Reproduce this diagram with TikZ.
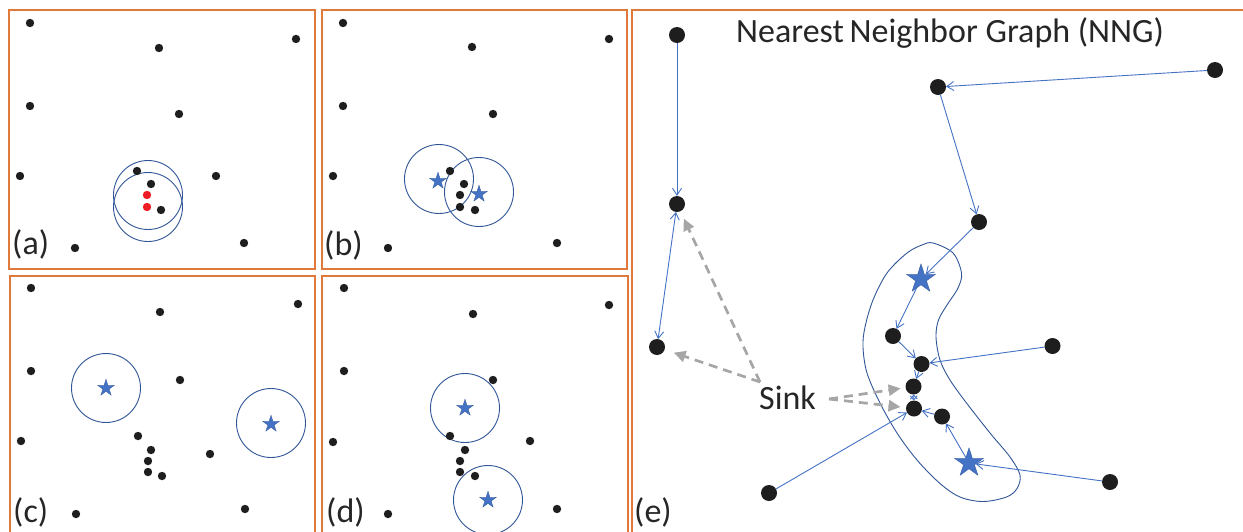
\documentclass[tikz,border=0pt]{standalone}
\usepackage{fontspec}
\setmainfont{Carlito}
\usetikzlibrary{shapes.geometric,arrows.meta}
\definecolor{frameor}{HTML}{E07A3C}
\definecolor{circblue}{HTML}{2F5597}
\definecolor{starblue}{HTML}{4472C4}
\definecolor{linkblue}{HTML}{4472C4}
\definecolor{sinkgray}{HTML}{A6A6A6}
\definecolor{dotblack}{HTML}{1E1E1E}
\definecolor{dotred}{HTML}{EE1C25}
\definecolor{txt}{HTML}{262626}
\newcommand\lblfont{\fontsize{34}{40}\selectfont}
\begin{document}
\begin{tikzpicture}[x=1pt,y=-1pt,
  panelframe/.style={draw=frameor,line width=1.1pt},
  pdot/.style={circle,fill=dotblack,inner sep=0pt,minimum size=8.4pt},
  rdot/.style={circle,fill=dotred,inner sep=0pt,minimum size=8.4pt},
  bigdot/.style={circle,fill=dotblack,inner sep=0pt,minimum size=16pt,outer sep=0pt},
  nring/.style={circle,draw=circblue,line width=0.9pt,inner sep=0pt,minimum size=69pt},
  smallstar/.style={star,star points=5,star point ratio=2.618,minimum size=17.6pt,inner sep=0pt,fill=starblue,draw=circblue,line width=0.3pt},
  bigstar/.style={star,star points=5,star point ratio=2.618,minimum size=30.4pt,inner sep=0pt,fill=starblue,draw=circblue,line width=0.3pt,outer sep=0pt},
  nnedge/.style={draw=linkblue,line width=0.9pt,-{Straight Barb[length=7pt,width=9pt]}},
  nnboth/.style={draw=linkblue,line width=0.9pt,{Straight Barb[length=4pt,width=7pt]}-{Straight Barb[length=4pt,width=7pt]}},
  sinkarrow/.style={draw=sinkgray,line width=2.7pt,dash pattern=on 9pt off 6pt,-{Triangle[length=12pt,width=11pt]}},
  lbl/.style={inner sep=0pt,text=txt,font=\lblfont},
  blob/.style={draw=circblue,line width=0.9pt}
]
\useasboundingbox (0,0) rectangle (1243,531);
\clip (0,0) rectangle (1243,531);
% frames
\draw[panelframe] (9,10) rectangle (315,269);
\draw[panelframe] (322,10) rectangle (627,269);
\draw[panelframe] (10,276) rectangle (315,545);
\draw[panelframe] (322,276) rectangle (628,545);
\draw[panelframe] (632,10) rectangle (1260,545);
% panel (a)
\node[nring] (ca1) at (148,195) {};
\node[nring] (ca2) at (148,207) {};
\foreach \x/\y [count=\i] in {30/23,159/48,296/39,30/106,179/114,20/176,137/171,151/184,216/176,161/210,75/248,244/243}
  \node[pdot] (a\i) at (\x,\y) {};
\node[rdot] (ar1) at (147,195) {};
\node[rdot] (ar2) at (147,207) {};
\node[lbl,anchor=base west] (la) at (12,254) {(a)};
% panel (b)
\node[nring] (cb1) at (439,179) {};
\node[nring] (cb2) at (479,192) {};
\foreach \x/\y [count=\i] in {343/23,472/47,609/39,343/106,493/114,333/176,450/171,464/184,460/195,460/207,475/210,388/248,557/243}
  \node[pdot] (b\i) at (\x,\y) {};
\node[smallstar] (sb1) at (438,181) {};
\node[smallstar] (sb2) at (479,194) {};
\node[lbl,anchor=base west] (lb) at (324,255) {(b)};
% panel (c)
\node[nring] (cc1) at (106,388) {};
\node[nring] (cc2) at (271,423) {};
\foreach \x/\y [count=\i] in {31/288,160/312,298/304,31/371,180/380,21/441,138/436,151/450,210/454,148/461,148/472,162/476,76/514,245/509}
  \node[pdot] (c\i) at (\x,\y) {};
\node[smallstar] (sc1) at (106,388) {};
\node[smallstar] (sc2) at (271,424) {};
\node[lbl,anchor=base west] (lc) at (13,522) {(c)};
% panel (d)
\node[nring] (cd1) at (465,408) {};
\node[nring] (cd2) at (488,500) {};
\foreach \x/\y [count=\i] in {344/288,473/314,609/305,344/371,493/380,333/442,450/436,465/450,530/441,460/461,460/472,475/476,388/514,557/509}
  \node[pdot] (d\i) at (\x,\y) {};
\node[smallstar] (sd1) at (465,408) {};
\node[smallstar] (sd2) at (488,500) {};
\node[lbl,anchor=base west] (ld) at (326,522) {(d)};
% panel (e)
\node[lbl,anchor=base west] (title) at (736,42) {Nearest\hspace{-2pt} Neighbor Graph (NNG)};
\draw[blob] plot[smooth cycle,tension=0.55] coordinates {
 (933,243) (953,253) (961.5,273) (958,288) (947,305) (938.5,320) (936,337) (940,360) (950,380) (966.5,403) (990,433) (1010,457) (1020,475) (1017,488.5) (1006.5,497) (983,501.5) (960,497) (940,483.5) (917,460) (897,433) (880,403) (867,373) (863,347) (865,327) (873,300) (887,273) (907,253) (922,245)};
\node[bigdot] (n1) at (677,35) {};
\node[bigdot] (n2) at (677,204) {};
\node[bigdot] (n3) at (938,87) {};
\node[bigdot] (n4) at (1215,70) {};
\node[bigdot] (n5) at (979,222) {};
\node[bigdot] (n6) at (657,347) {};
\node[bigdot] (n7) at (893,336) {};
\node[bigdot] (n8) at (921.5,364) {};
\node[bigdot] (n9) at (1052.5,346) {};
\node[bigdot] (n10) at (913.5,386.5) {};
\node[bigdot] (n11) at (914,408.5) {};
\node[bigdot] (n12) at (942,416.5) {};
\node[bigdot] (n13) at (1110,482) {};
\node[bigdot] (n14) at (769,493) {};
\node[bigstar] (s1) at (921,279) {};
\node[bigstar] (s2) at (969,463) {};
\draw[nnedge] (n1) -- (n2);
\draw[draw=linkblue,line width=0.9pt,{Straight Barb[length=7pt,width=9pt]}-{Straight Barb[length=7pt,width=9pt]}] (n2) -- (n6);
\draw[nnedge] (n4) -- (n3);
\draw[nnedge] (n3) -- (n5);
\draw[nnedge] (n5) -- (s1);
\draw[nnedge] (s1) -- (n7);
\draw[nnedge] (n7) -- (n8);
\draw[nnedge] (n9) -- (n8);
\draw[nnedge] (n8) -- (n10);
\draw[nnboth] (n10) -- (n11);
\draw[nnedge] (n14) -- (n11);
\draw[nnedge] (n12) -- (n11);
\draw[nnedge] (s2) -- (n12);
\draw[nnedge] (n13) -- (s2);
% sink
\node[lbl,anchor=base west] (sink) at (759,409) {Sink};
\coordinate (sk1) at (760,382);
\coordinate (sk2) at (829,399);
\draw[sinkarrow,shorten >=8pt] (sk1) -- (n2);
\draw[sinkarrow,shorten >=9.5pt] (sk1) -- (n6);
\draw[sinkarrow,shorten >=5pt] (sk2) -- (n10);
\draw[sinkarrow,shorten >=5.5pt] (sk2) -- (n11);
\node[lbl,anchor=base west] (le) at (634,522) {(e)};
\end{tikzpicture}
\end{document}
